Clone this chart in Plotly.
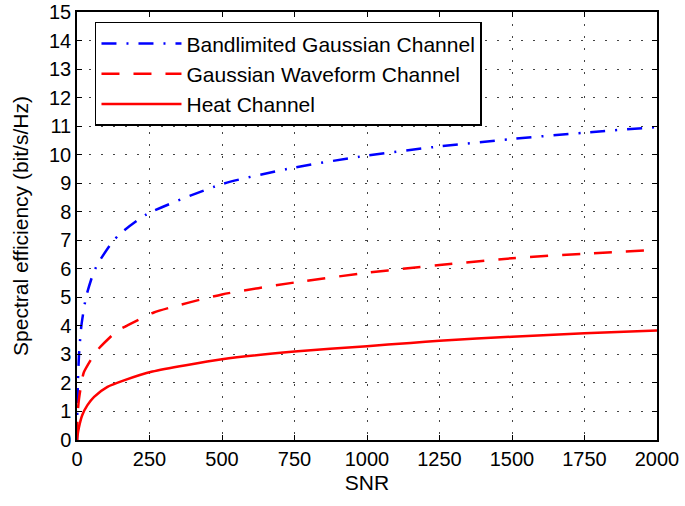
import plotly.graph_objects as go

# SNR sample points and values
snr_blue = [0, 1, 3, 7, 15, 31, 53, 70, 122, 151, 242, 500, 750, 1000, 1250, 1500, 1750, 2000]
bandlimited = [0, 1.0, 2.0, 3.0, 4.0, 5.0, 5.75, 6.15, 6.94, 7.25, 7.92, 8.97, 9.55, 9.97, 10.29, 10.55, 10.77, 10.97]

snr_wave = [0, 2, 7, 18, 24, 64, 82, 139, 179, 265, 500, 750, 1000, 1150, 1250, 1500, 1750, 2000]
waveform = [0, 0.9, 1.45, 2.15, 2.38, 3.07, 3.28, 3.83, 4.04, 4.47, 5.10, 5.52, 5.86, 6.03, 6.13, 6.37, 6.53, 6.66]

snr_heat = [0, 1, 7, 18, 36, 59, 105, 162, 260, 500, 750, 1000, 1150, 1250, 1500, 1750, 2000]
heat = [0, 0.1, 0.46, 0.87, 1.22, 1.51, 1.86, 2.09, 2.40, 2.83, 3.10, 3.29, 3.40, 3.48, 3.62, 3.74, 3.84]

x_ticks = [0, 250, 500, 750, 1000, 1250, 1500, 1750, 2000]
y_ticks = list(range(0, 16))

names = ["Bandlimited Gaussian Channel", "Gaussian Waveform Channel", "Heat Channel"]

fig = go.Figure()
fig.add_trace(go.Scatter(x=snr_blue, y=bandlimited, mode="lines", name=names[0],
                         line=dict(color="#0000FF", width=2.5, dash="15px,10px,2px,10px", shape="spline", smoothing=0.6)))
fig.add_trace(go.Scatter(x=snr_wave, y=waveform, mode="lines", name=names[1],
                         line=dict(color="#FF0000", width=2.5, dash="18px,14px", shape="spline", smoothing=0.6)))
fig.add_trace(go.Scatter(x=snr_heat, y=heat, mode="lines", name=names[2],
                         line=dict(color="#FF0000", width=2.5, shape="spline", smoothing=0.6)))

font = "Liberation Sans, Arial, sans-serif"
axis_common = dict(
    showline=True, linecolor="black", linewidth=1.5, mirror="ticks",
    ticks="inside", ticklen=5, tickcolor="black", tickwidth=1,
    showgrid=True, gridcolor="#444444", griddash="1.5px,10.5px", gridwidth=1.2,
    zeroline=False, tickfont=dict(family=font, size=20, color="black"),
    automargin=False, ticklabeloverflow="allow",
)

fig.update_layout(
    width=685, height=506,
    margin=dict(l=77, r=28, t=12, b=66),
    paper_bgcolor="white", plot_bgcolor="white",
    font=dict(family=font, size=20, color="black"),
    xaxis=dict(range=[0, 2000], tickvals=x_ticks, title=dict(text="SNR", font=dict(size=21), standoff=7), **axis_common),
    yaxis=dict(range=[0, 15], tickvals=y_ticks, title=dict(text="Spectral efficiency (bit/s/Hz)", font=dict(size=21), standoff=15), **axis_common),
    legend=dict(x=0.031, y=0.977, xanchor="left", yanchor="top",
                bgcolor="white", bordercolor="black", borderwidth=1.5,
                font=dict(family=font, size=21, color="black"),
                itemwidth=80, tracegroupgap=0),
    showlegend=True,
)

fig.write_html("out.html", config={"displayModeBar": False},
               post_script="document.body.style.margin='0';document.body.style.padding='0';")
